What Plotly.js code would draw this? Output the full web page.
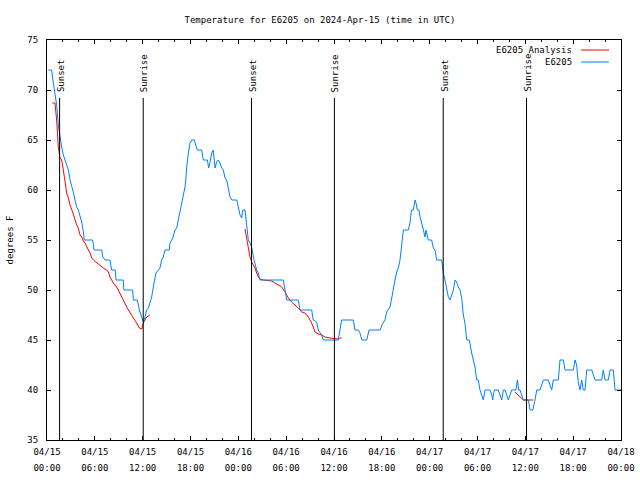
<!DOCTYPE html>
<html>
<head>
<meta charset="utf-8">
<script src="https://cdn.plot.ly/plotly-3.0.1.min.js"></script>
<style>html,body{margin:0;padding:0;background:#fff;}#chart{width:640px;height:480px;}</style>
</head>
<body>
<div id="chart"></div>
<script>
// Hours since 2024-04-15 00:00 UTC
const obsName = 'E6205';
const anaName = 'E6205 Analysis';
const obsHours = [0.17,0.59,0.65,0.75,0.88,1.0,1.21,1.42,1.63,1.84,2.05,2.26,2.47,2.68,2.89,3.09,3.30,3.51,3.72,3.93,4.14,4.35,4.56,4.68,5.73,5.90,6.86,7.0,7.28,7.90,8.0,8.11,8.55,8.66,9.57,9.65,10.75,10.83,11.33,11.58,11.88,12.08,12.29,12.5,12.71,12.92,13.13,13.34,13.55,13.67,13.97,14.17,14.38,14.59,14.8,15.34,15.43,15.77,16.06,16.27,16.47,16.68,16.9,17.1,17.31,17.44,17.52,17.73,17.94,18.15,18.48,18.65,18.86,19.4,19.61,20.11,20.28,20.45,20.66,20.86,21.07,21.29,21.49,21.7,21.91,22.12,22.33,22.54,22.74,22.96,23.17,23.8,24.0,24.21,24.42,24.55,24.84,25.05,25.25,25.46,25.67,25.88,26.09,26.3,26.51,26.72,29.64,29.85,30.07,31.52,31.74,33.2,33.4,33.83,34.03,34.46,34.66,36.54,36.75,36.96,38.42,38.63,39.05,39.26,39.5,40.1,40.4,41.8,42.0,42.4,42.61,42.81,43.03,43.24,43.44,43.65,43.87,44.07,44.28,44.49,44.62,44.7,45.32,45.53,45.66,45.75,45.95,46.16,46.29,46.45,46.66,46.79,47.0,47.2,47.42,47.54,47.71,47.83,48.25,48.46,48.67,48.88,49.51,49.71,49.92,50.14,50.34,50.55,50.77,50.97,51.18,51.39,51.59,51.81,52.02,52.22,52.43,52.65,52.97,53.06,53.27,53.47,53.69,53.9,54.1,54.31,54.53,54.73,54.94,55.57,55.78,55.91,55.98,56.11,56.61,56.82,57.04,57.24,57.45,57.66,57.87,58.08,58.29,58.83,59.0,59.17,59.33,59.75,60.38,60.59,60.93,61.21,61.43,61.84,62.05,62.26,62.88,63.1,63.31,63.51,64.14,64.35,64.77,64.98,66.02,66.23,66.44,66.65,66.86,67.07,67.27,67.49,67.7,68.33,68.74,69.58,69.78,69.99,70.41,70.62,71.04,71.25,71.88,72];
const obsTemps = [72,72,71.5,71,70.5,70,68.5,66.5,65.2,64.3,63.5,63,62.6,62,61,60.5,59.8,59,58.3,58,57.5,56.8,55.8,55,55,54,54,53.3,53,53,52.5,52,52,51,51,50,50,49,49,48,47.3,46.8,47.3,48,48.2,48.8,49.3,50.3,51,51.7,52,52.2,53,53.3,54,54,54.7,55.2,56,56.2,57,57.8,58.5,59.3,60.3,61.3,62.3,63.7,64.7,65,65,64.5,64,64,63,63,62.2,62.8,63.7,64,62.2,62.8,63,62.7,62.2,62,61.2,61,60.2,59.3,59,59,58.3,57.5,57.2,58,58,56.7,55,54.7,54.3,53.3,52.5,52,51.7,51,51,49.8,49,49,48,48,47,46.8,46,45.5,45,45,46,47,47,46,46,45.7,45,45,46,46,46.5,47,47.8,48,48.3,49.2,50.3,51,51.8,52.2,53,54.5,55.5,56,56,56.7,57.7,58,58,59,58.7,58,58,57.3,56.7,56,55.3,56,55.2,55,55,54.2,54,53,53,51.7,51,50.2,49.3,49,49.5,50,51,50.8,50.3,50,49.2,47.5,46.7,45,45,44.5,43.7,43,42.3,41,41,40,39.5,39,40,40,39.5,39,39.5,40,40,39.5,39,40,40,39.5,39,39.5,40,40,41,40,40,39,39,38,38,39,40,40,40.5,41,41,40.5,40,41,41,43,43,42,42,43,42.5,40.7,40,41,40,40,42,42,41,41,42,41,41,42,42,40,40,40];
const anaHours = [0.67,1.0,1.21,1.42,1.63,1.84,2.05,2.26,2.47,2.68,2.89,3.3,3.51,3.72,3.93,4.14,4.35,4.56,4.77,4.98,5.19,5.4,5.61,5.82,6.24,6.65,7.07,7.49,7.7,7.9,8.32,8.74,9.16,9.57,9.99,10.41,10.83,11.25,11.58,11.88,12.08,12.29,12.5,12.71,12.9,null,24.84,25.05,25.25,25.46,25.67,25.88,26.09,26.3,26.51,26.72,27.13,28.18,28.6,29.01,29.44,29.85,30.27,30.69,31.11,31.52,31.95,32.36,32.78,33.2,33.62,34.03,34.46,34.87,35.5,36.13,36.54,36.75,36.96,null,58.7,59.12,59.54,59.75,61.0];
const anaTemps = [68.7,68.7,67,64.3,63.2,63,62,61,59.7,59.2,58.5,57.6,56.9,56.5,56.2,55.5,55.3,54.9,54.7,54.3,54,53.7,53.2,53,52.7,52.4,52.2,52,51.8,51.3,50.7,50.3,49.7,49,48.3,47.7,47.2,46.7,46.2,46.1,46.7,47,47.3,47.4,47.5,null,56.1,55,54.2,53.3,52.8,52.5,52.2,51.7,51.3,51.1,51,50.9,50.7,50.5,50.3,49.8,49.2,48.8,48.5,48.2,47.8,47.7,47.3,46.7,45.8,45.6,45.5,45.3,45.2,45.1,45.1,45.2,45.2,null,39.8,39.5,39.2,39,39];
const sunsetHours = [1.58, 25.65, 49.7];
const sunriseHours = [12.07, 36.05, 60.15];
const tickHours = [0,6,12,18,24,30,36,42,48,54,60,66,72];
const tickDates = ['04/15','04/15','04/15','04/15','04/16','04/16','04/16','04/16','04/17','04/17','04/17','04/17','04/18'];
const tickTimes = ['00:00','06:00','12:00','18:00','00:00','06:00','12:00','18:00','00:00','06:00','12:00','18:00','00:00'];

const FONT = 'DejaVu Sans Mono, monospace';
const FS = 9;
const RED = '#ff0000';
const BLUE = '#0080ff';
const lineTop = 69.2;

// sun event lines
const events = sunsetHours.map(h => ({h, t: 'Sunset'})).concat(sunriseHours.map(h => ({h, t: 'Sunrise'})));
const vx = [], vy = [];
events.forEach(e => { vx.push(e.h, e.h, null); vy.push(35, lineTop, null); });

const traces = [
  {x: vx, y: vy, xaxis: 'x2', yaxis: 'y', mode: 'lines', line: {color: '#000', width: 1}, hoverinfo: 'skip', showlegend: false},
  {x: anaHours, y: anaTemps, name: anaName, mode: 'lines', line: {color: RED, width: 1}, connectgaps: false, showlegend: false},
  {x: obsHours, y: obsTemps, name: obsName, mode: 'lines', line: {color: BLUE, width: 1}, showlegend: false}
];

const annotations = events.map(e => ({
  x: e.h, y: lineTop + 0.4, xref: 'x', yref: 'y', text: e.t, textangle: -90,
  showarrow: false, xanchor: 'center', yanchor: 'bottom', xshift: 1,
  font: {family: FONT, size: FS, color: '#000'}
}));
// key (text left of sample line, as in the reference)
const W = 574, H = 400;
annotations.push(
  {xref: 'paper', yref: 'paper', x: (574 - 47) / W, y: (440 - 50) / H, text: anaName, showarrow: false, xanchor: 'right', yanchor: 'middle', font: {family: FONT, size: FS, color: '#000'}},
  {xref: 'paper', yref: 'paper', x: (574 - 47) / W, y: (440 - 62) / H, text: obsName, showarrow: false, xanchor: 'right', yanchor: 'middle', font: {family: FONT, size: FS, color: '#000'}}
);
const shapes = [
  {type: 'line', xref: 'paper', yref: 'paper', x0: (581 - 47) / W, x1: (609 - 47) / W, y0: (440 - 50) / H, y1: (440 - 50) / H, line: {color: RED, width: 1}},
  {type: 'line', xref: 'paper', yref: 'paper', x0: (581 - 47) / W, x1: (609 - 47) / W, y0: (440 - 62) / H, y1: (440 - 62) / H, line: {color: BLUE, width: 1}}
];

const layout = {
  width: 640, height: 480,
  margin: {l: 47, r: 19, t: 40, b: 40, pad: 0},
  paper_bgcolor: '#fff', plot_bgcolor: '#fff',
  showlegend: false,
  font: {family: FONT, size: FS, color: '#000'},
  title: {text: 'Temperature for E6205 on 2024-Apr-15 (time in UTC)', font: {family: FONT, size: FS, color: '#000'}, x: 0.5, xref: 'container', xanchor: 'center', y: 1 - 20 / 480, yref: 'container', yanchor: 'middle'},
  xaxis: {
    range: [0, 72], tickmode: 'array', tickvals: tickHours, ticktext: tickDates,
    ticks: 'inside', ticklen: 4, tickwidth: 1, tickcolor: '#000',
    showline: true, linecolor: '#000', linewidth: 1, mirror: 'ticks',
    showgrid: false, zeroline: false, ticklabelstandoff: 3,
    minor: {tickmode: 'linear', tick0: 0, dtick: 2, ticks: 'inside', ticklen: 2, tickcolor: '#000', showgrid: false},
    tickfont: {family: FONT, size: FS, color: '#000'}, fixedrange: true
  },
  xaxis2: {
    overlaying: 'x', anchor: 'y', side: 'bottom', range: [0, 72], tickmode: 'array', tickvals: tickHours, ticktext: tickTimes,
    ticks: '', showline: false, showgrid: false, zeroline: false, ticklabelstandoff: 21,
    tickfont: {family: FONT, size: FS, color: '#000'}
  },
  yaxis: {
    range: [35, 75], tickmode: 'linear', tick0: 35, dtick: 5,
    ticks: 'inside', ticklen: 4, tickwidth: 1, tickcolor: '#000',
    showline: true, linecolor: '#000', linewidth: 1, mirror: 'ticks',
    showgrid: false, zeroline: false, ticklabelstandoff: 6,
    title: {text: 'degrees F', font: {family: FONT, size: FS, color: '#000'}, standoff: 12},
    tickfont: {family: FONT, size: FS, color: '#000'}
  },
  annotations, shapes
};

Plotly.newPlot('chart', traces, layout, {displayModeBar: false, staticPlot: true});
</script>
</body>
</html>
